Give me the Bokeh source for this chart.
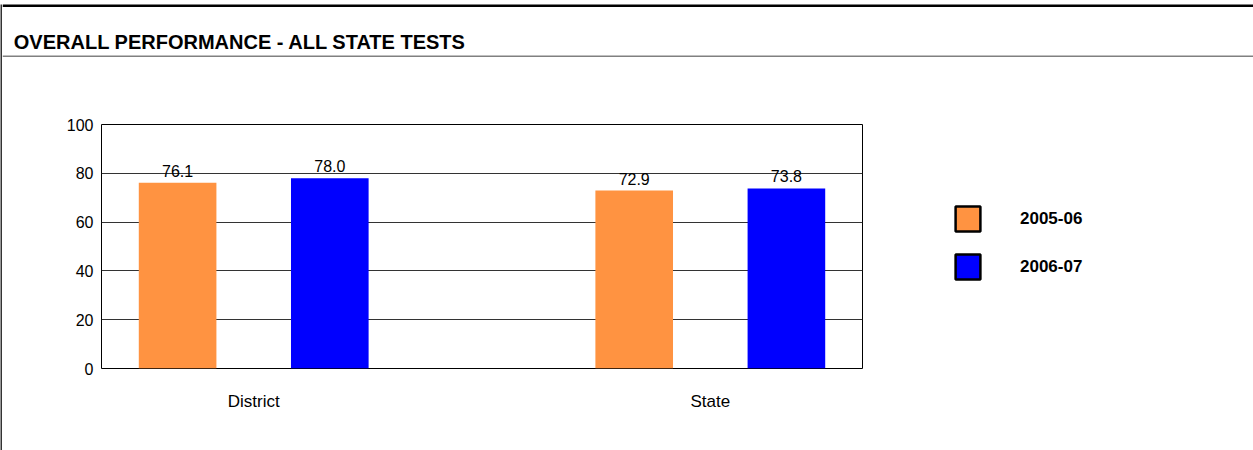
from bokeh.plotting import figure
from bokeh.layouts import row, column
from bokeh.models import (ColumnDataSource, FactorRange, Range1d, FixedTicker, CategoricalAxis,
                          Legend, LegendItem, Label, BoxAnnotation)
from bokeh.core.properties import value
from bokeh.embed import file_html
from bokeh.resources import INLINE

TITLE = "OVERALL PERFORMANCE - ALL STATE TESTS"
groups = ["District", "State"]
years = ["2005-06", "2006-07"]
scores_2005_06 = [76.1, 72.9]
scores_2006_07 = [78.0, 73.8]
year_colors = ["#FF9341", "#0000FF"]
y_ticks = [0, 20, 40, 60, 80, 100]

series = [scores_2005_06, scores_2006_07]
xs, tops, fills, texts = [], [], [], []
for gi, g in enumerate(groups):
    for yi, yr in enumerate(years):
        xs.append((g, yr))
        tops.append(series[yi][gi])
        fills.append(year_colors[yi])
        texts.append(f"{series[yi][gi]:.1f}")
src = ColumnDataSource(dict(x=xs, top=tops, fill=fills, label=texts))

FONT = "Liberation Sans"
GROUP_PAD = 1.0

def bare(w, h, x_range=None, y_range=None, **kw):
    f = figure(width=w, height=h, x_range=x_range or Range1d(0, 1), y_range=y_range or Range1d(0, 1),
               output_backend="svg", toolbar_location=None, x_axis_location=None,
               y_axis_location=None, min_border=0, **kw)
    f.outline_line_color = None
    f.grid.visible = False
    f.frame_align = False
    f.background_fill_color = "white"
    f.border_fill_color = "white"
    return f

# left page border strip
strip = bare(2, 450, min_border_top=4)
strip.background_fill_color = "#333333"

# header with title
head = bare(1251, 57)
head.add_layout(Label(x=11.3, y=15.3, x_units="screen", y_units="screen", text=TITLE,
                      text_align="left", text_baseline="alphabetic", text_font=FONT,
                      text_font_style="bold", text_font_size="20px", text_color="black"))

def box(l, r, t, b, c):
    return BoxAnnotation(left=l, right=r, top=t, bottom=b, left_units="screen", right_units="screen",
                         top_units="screen", bottom_units="screen", fill_color=c, fill_alpha=1,
                         line_color=None)
head.add_layout(box(0, 1251, 53, 50.5, "black"))
head.add_layout(box(0, 1251, 2, 0, "#808080"))

# chart
n_per = len(years)
edge = n_per / 2.0
a = edge / (n_per + GROUP_PAD)
grp_range = FactorRange(factors=groups, range_padding=a - 0.5, range_padding_units="absolute")

p = figure(width=862, height=393,
           x_range=FactorRange(factors=xs, group_padding=GROUP_PAD, factor_padding=0.0, range_padding=0.0),
           y_range=Range1d(0, 100),
           output_backend="svg", toolbar_location=None,
           min_border_left=99, min_border_right=2, min_border_top=67, min_border_bottom=82)
p.frame_align = False
p.extra_x_ranges = {"grp": grp_range}
p.background_fill_color = "white"
p.border_fill_color = "white"
p.outline_line_color = "black"
p.outline_line_width = 1

p.vbar(x="x", top="top", width=0.51, fill_color="fill", line_color=None, source=src)
p.text(x="x", y="top", text="label", source=src, text_align="center", text_baseline="alphabetic",
       y_offset=-12, text_font=value(FONT), text_font_size=value("16px"), text_color="black")

p.xaxis.visible = False
p.xgrid.visible = False
yax = p.yaxis[0]
yax.ticker = FixedTicker(ticks=y_ticks)
yax.axis_line_color = None
yax.major_tick_line_color = None
yax.minor_tick_line_color = None
yax.major_tick_out = 0
yax.major_tick_in = 0
yax.major_label_standoff = 8
yax.major_label_text_font = FONT
yax.major_label_text_font_size = "16px"
yax.major_label_text_color = "black"
p.ygrid.grid_line_color = "#333333"
p.ygrid.grid_line_width = 1

gax = CategoricalAxis(x_range_name="grp")
gax.axis_line_color = None
gax.major_tick_line_color = None
gax.minor_tick_line_color = None
gax.major_tick_out = 0
gax.major_tick_in = 0
gax.major_label_standoff = 23
gax.major_label_text_font = FONT
gax.major_label_text_font_size = "17px"
gax.major_label_text_color = "black"
p.add_layout(gax, "below")

# legend panel: hidden renderers carrying each year's series provide the swatches
legfig = bare(389, 393, x_range=FactorRange(factors=xs), y_range=Range1d(0, 100))
proxies = []
for yi in range(len(years)):
    lsrc = ColumnDataSource(dict(x=[(g, years[yi]) for g in groups], top=series[yi]))
    r = legfig.vbar(x="x", top="top", width=0.5, source=lsrc, fill_color=year_colors[yi],
                    line_color="black", line_width=2.5)
    r.visible = False
    proxies.append(r)
legend = Legend(items=[LegendItem(label=years[i], renderers=[proxies[i]]) for i in range(len(years))],
                location=(88, 168), orientation="vertical", glyph_width=31, glyph_height=31,
                label_height=31, label_standoff=37, spacing=17, padding=0, margin=0,
                border_line_color=None, background_fill_alpha=0, click_policy="none",
                label_text_font=FONT, label_text_font_style="bold", label_text_font_size="17px",
                label_text_color="black")
legfig.add_layout(legend)

layout = row(strip, column(head, row(p, legfig)))
open("out.html", "w").write(file_html(layout, INLINE))
